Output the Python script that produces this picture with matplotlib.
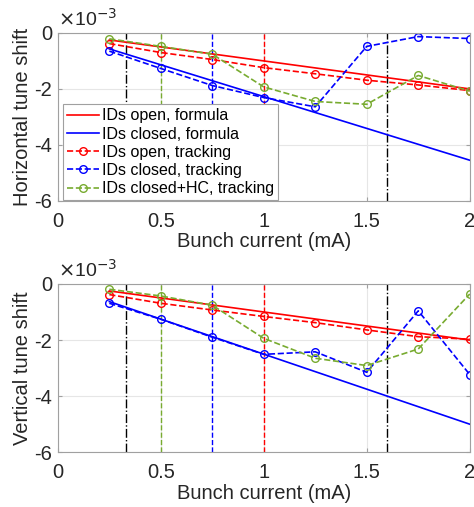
import numpy as np
import matplotlib
matplotlib.use("Agg")
import matplotlib.pyplot as plt

plt.rcParams['font.family'] = ['Liberation Sans', 'DejaVu Sans']
plt.rcParams['axes.unicode_minus'] = False

# bunch current (mA), tune shifts in units of 1e-3
current = [0.25, 0.5, 0.75, 1.0, 1.25, 1.5, 1.75, 2.0]
formula_current = [0.25, 2.0]

h_open_formula = [-0.25, -2.0]
h_closed_formula = [-0.57, -4.55]
h_open_track = [-0.38, -0.70, -0.95, -1.24, -1.46, -1.69, -1.86, -2.06]
h_closed_track = [-0.65, -1.27, -1.88, -2.31, -2.64, -0.48, -0.13, -0.20]
h_hc_track = [-0.21, -0.48, -0.76, -1.93, -2.45, -2.55, -1.52, -2.08]

v_open_formula = [-0.25, -2.0]
v_closed_formula = [-0.63, -5.0]
v_open_track = [-0.38, -0.69, -0.93, -1.16, -1.38, -1.64, -1.88, -1.97]
v_closed_track = [-0.69, -1.26, -1.90, -2.51, -2.42, -3.15, -0.96, -3.23]
v_hc_track = [-0.19, -0.43, -0.76, -1.94, -2.65, -2.91, -2.32, -0.36]

# thresholds (vertical markers)
black_lines = [0.33, 1.6]
hc_line = 0.5
closed_line = 0.75
open_line = 1.0

red = (1, 0, 0)
blue = (0, 0, 1)
green = (0.47, 0.67, 0.19)

fig = plt.figure(figsize=(4.74, 5.07), dpi=100)
ax1 = fig.add_axes([0.122, 0.604, 0.869, 0.331])
ax2 = fig.add_axes([0.122, 0.108, 0.869, 0.332])


def draw(ax, of, cf, ot, ct, ht, ylabel, legend):
    for xv in black_lines:
        ax.axvline(xv, color='k', ls='-.', lw=1.0)
    ax.axvline(hc_line, color=green, ls='--', lw=1.0)
    ax.axvline(closed_line, color=blue, ls='--', lw=1.0)
    ax.axvline(open_line, color=red, ls='--', lw=1.0)

    ax.plot(formula_current, of, color=red, lw=1.2, label='IDs open, formula')
    ax.plot(formula_current, cf, color=blue, lw=1.2, label='IDs closed, formula')
    ax.plot(current, ot, color=red, ls='--', lw=1.2, marker='o', ms=5.5,
            mfc='none', label='IDs open, tracking')
    ax.plot(current, ct, color=blue, ls='--', lw=1.2, marker='o', ms=5.5,
            mfc='none', label='IDs closed, tracking')
    ax.plot(current, ht, color=green, ls='--', lw=1.2, marker='o', ms=5.5,
            mfc='none', label='IDs closed+HC, tracking')

    ax.set_xlim(0, 2)
    ax.set_ylim(-6, 0)
    ax.set_xticks([0, 0.5, 1, 1.5, 2])
    ax.set_xticklabels(['0', '0.5', '1', '1.5', '2'])
    ax.set_yticks([-6, -4, -2, 0])
    ax.set_yticklabels(['-6', '-4', '-2', '0'])
    ax.grid(True, color='#e6e6e6', lw=0.8)
    ax.set_axisbelow(True)
    for s in ax.spines.values():
        s.set_color('#a0a0a0')
    ax.tick_params(direction='in', length=3, colors='#a0a0a0',
                   labelcolor='#262626', labelsize=14.5, top=True, right=True)
    ax.tick_params(axis='x', pad=8)
    ax.tick_params(axis='y', pad=4)
    ax.set_xlabel('Bunch current (mA)', fontsize=14.5, color='#262626',
                  labelpad=1)
    ax.set_ylabel(ylabel, fontsize=14.5, color='#262626', labelpad=2)
    ax.text(0.0, 1.02, r'$\times$10$^{-3}$', transform=ax.transAxes,
            fontsize=14, color='#262626', ha='left', va='bottom')
    if legend:
        leg = ax.legend(loc='lower left', bbox_to_anchor=(0.012, 0.004),
                        fontsize=11.5, handlelength=2.0,
                        labelspacing=0.2, borderpad=0.25, handletextpad=0.2,
                        borderaxespad=0.0, fancybox=False, framealpha=1)
        leg.get_frame().set_edgecolor('#a0a0a0')
        leg.get_frame().set_linewidth(0.8)


draw(ax1, h_open_formula, h_closed_formula, h_open_track, h_closed_track,
     h_hc_track, 'Horizontal tune shift', True)
draw(ax2, v_open_formula, v_closed_formula, v_open_track, v_closed_track,
     v_hc_track, 'Vertical tune shift', False)

fig.savefig('out.png', dpi=100)
